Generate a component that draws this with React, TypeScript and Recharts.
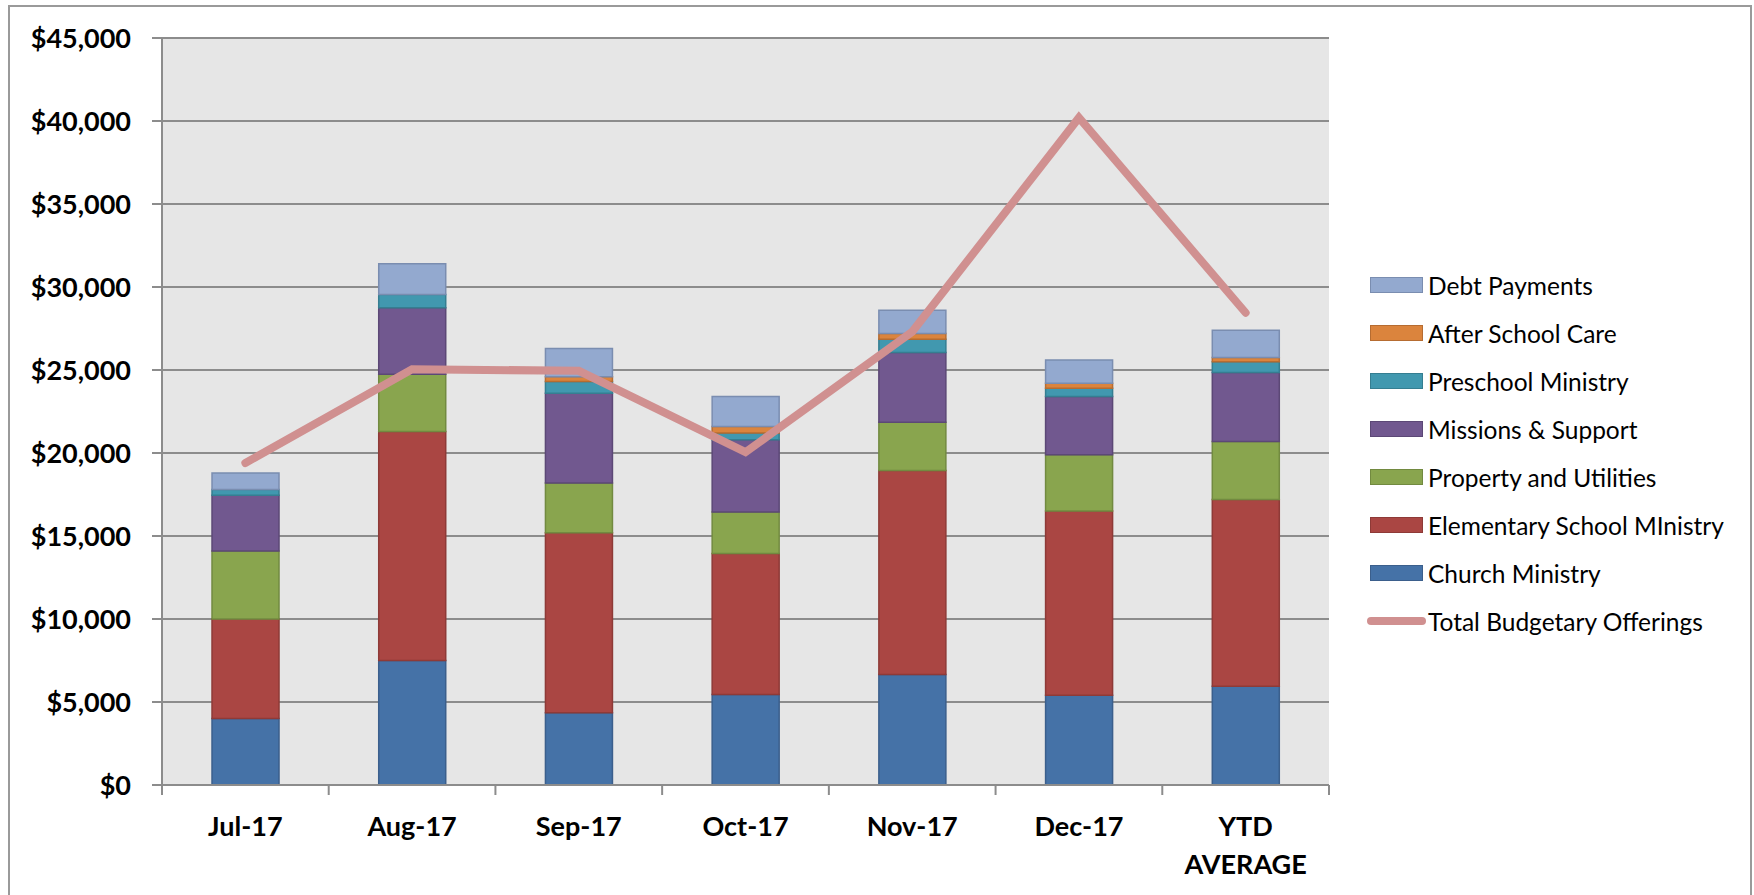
import React from 'react';
import { ComposedChart, Bar, Line, XAxis, YAxis, CartesianGrid } from 'recharts';

const categories = ['Jul-17', 'Aug-17', 'Sep-17', 'Oct-17', 'Nov-17', 'Dec-17', 'YTD AVERAGE'];
const tickLabels = [['Jul-17'], ['Aug-17'], ['Sep-17'], ['Oct-17'], ['Nov-17'], ['Dec-17'], ['YTD', 'AVERAGE']];
const yTicks = [0, 5000, 10000, 15000, 20000, 25000, 30000, 35000, 40000, 45000];

const church = [4000, 7500, 4350, 5450, 6650, 5400, 5950];
const elementary = [6000, 13800, 10850, 8500, 12300, 11100, 11250];
const property = [4100, 3450, 3000, 2500, 2900, 3400, 3500];
const missions = [3350, 4000, 5400, 4350, 4200, 3500, 4150];
const preschool = [350, 800, 700, 400, 800, 500, 650];
const afterSchool = [0, 0, 300, 400, 350, 300, 250];
const debt = [1000, 1850, 1700, 1800, 1400, 1400, 1650];
const totalOfferings = [19400, 25050, 24950, 20050, 27300, 40200, 28450];

const data = categories.map((c, i) => ({
  category: c,
  church: church[i],
  elementary: elementary[i],
  property: property[i],
  missions: missions[i],
  preschool: preschool[i],
  afterSchool: afterSchool[i],
  debt: debt[i],
  total: totalOfferings[i],
}));

const barSeries = [
  { key: 'church', name: 'Church Ministry', fill: '#4572A7', stroke: '#3B5F8C' },
  { key: 'elementary', name: 'Elementary School MInistry', fill: '#AA4643', stroke: '#8E3A37' },
  { key: 'property', name: 'Property and Utilities', fill: '#89A54E', stroke: '#728A40' },
  { key: 'missions', name: 'Missions & Support', fill: '#71588F', stroke: '#5C4876' },
  { key: 'preschool', name: 'Preschool Ministry', fill: '#4198AF', stroke: '#357E91' },
  { key: 'afterSchool', name: 'After School Care', fill: '#DB843D', stroke: '#B66C31' },
  { key: 'debt', name: 'Debt Payments', fill: '#93A9CF', stroke: '#7A8DB0' },
];
const lineSeries = { key: 'total', name: 'Total Budgetary Offerings', stroke: '#D09090' };

const GRAY = '#8C8C8C';
const FONT = "Lato, 'Open Sans', sans-serif";

const fmt = (v: number) => '$' + v.toLocaleString('en-US');

const XTick = (props: any) => {
  const { x, y, payload, index, width, visibleTicksCount } = props;
  const half =
    payload && typeof payload.offset === 'number' && payload.offset > 0
      ? payload.offset
      : (width || 1167) / (visibleTicksCount || categories.length) / 2;
  const axisY = y - 12;
  const lines = tickLabels[index] ?? [String(payload.value)];
  return (
    <g>
      <line x1={x - half} x2={x - half} y1={axisY} y2={axisY + 10} stroke={GRAY} strokeWidth={2} />
      {index === categories.length - 1 && (
        <line x1={x + half} x2={x + half} y1={axisY} y2={axisY + 10} stroke={GRAY} strokeWidth={2} />
      )}
      <text textAnchor="middle" fontFamily={FONT} fontWeight="bold" fontSize={27} fill="#000">
        {lines.map((l, i) => (
          <tspan key={i} x={x} y={y + 39 + i * 38}>
            {l}
          </tspan>
        ))}
      </text>
    </g>
  );
};

const legendItems = [...barSeries].reverse();

export default function App() {
  return (
    <div
      style={{
        position: 'absolute',
        left: 0,
        top: 0,
        width: 1754,
        height: 895,
        overflow: 'hidden',
        background: '#fff',
        fontFamily: FONT,
      }}
    >
      <div
        style={{
          position: 'absolute',
          left: 8,
          top: 5,
          width: 1744,
          height: 910,
          border: '2px solid #9A9A9A',
          boxSizing: 'border-box',
        }}
      />
      <div style={{ position: 'absolute', left: 0, top: 0 }}>
        <ComposedChart
          width={1754}
          height={895}
          data={data}
          margin={{ top: 38, right: 425, bottom: 0, left: 0 }}
          barCategoryGap="30%"
        >
          <CartesianGrid vertical={false} stroke={GRAY} strokeWidth={2} fill="#E6E6E6" />
          <XAxis
            dataKey="category"
            height={110}
            axisLine={{ stroke: GRAY, strokeWidth: 2 }}
            tickLine={false}
            tickSize={10}
            tickMargin={2}
            interval={0}
            tick={<XTick />}
          />
          <YAxis
            width={162}
            domain={[0, 45000]}
            ticks={yTicks}
            interval={0}
            tickFormatter={fmt}
            axisLine={{ stroke: GRAY, strokeWidth: 2 }}
            tickLine={{ stroke: GRAY, strokeWidth: 2 }}
            tickSize={10}
            tickMargin={21}
            tick={{ fontFamily: FONT, fontWeight: 'bold', fontSize: 27, fill: '#000' }}
          />
          {barSeries.map((s) => (
            <Bar
              key={s.key}
              dataKey={s.key}
              name={s.name}
              stackId="a"
              fill={s.fill}
              stroke={s.stroke}
              strokeWidth={1.5}
              isAnimationActive={false}
            />
          ))}
          <Line
            type="linear"
            dataKey={lineSeries.key}
            name={lineSeries.name}
            stroke={lineSeries.stroke}
            strokeWidth={8}
            strokeLinecap="round"
            strokeLinejoin="miter"
            dot={false}
            activeDot={false}
            isAnimationActive={false}
          />
        </ComposedChart>
      </div>
      <div style={{ position: 'absolute', left: 1367, top: 261 }}>
        {legendItems.map((s) => (
          <div key={s.key} style={{ display: 'flex', alignItems: 'center', height: 48 }}>
            <div
              style={{
                width: 53,
                height: 16,
                marginLeft: 3,
                background: s.fill,
                border: `1.5px solid ${s.stroke}`,
                boxSizing: 'border-box',
              }}
            />
            <span style={{ marginLeft: 5, fontSize: 24.5, color: '#000', whiteSpace: 'nowrap' }}>{s.name}</span>
          </div>
        ))}
        <div style={{ display: 'flex', alignItems: 'center', height: 48 }}>
          <div style={{ width: 59, height: 8, borderRadius: 4, background: lineSeries.stroke }} />
          <span style={{ marginLeft: 2, fontSize: 24.5, color: '#000', whiteSpace: 'nowrap' }}>{lineSeries.name}</span>
        </div>
      </div>
    </div>
  );
}
